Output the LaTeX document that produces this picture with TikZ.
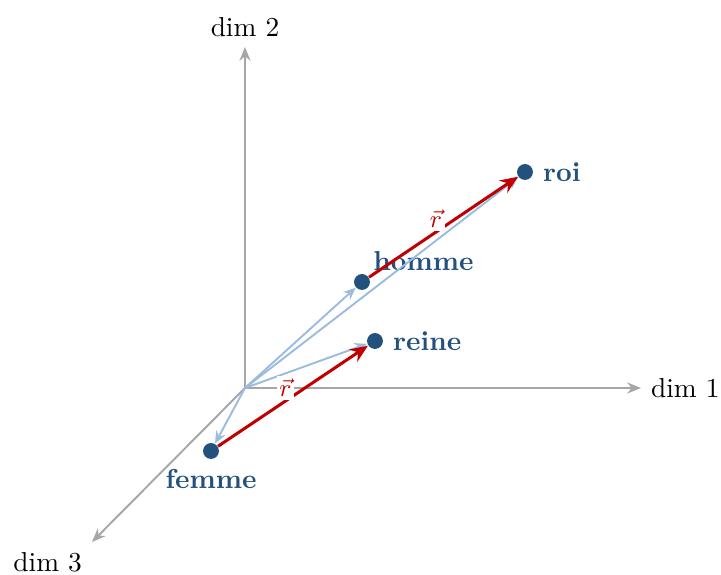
\documentclass[tikz,border=0pt]{standalone}
\usetikzlibrary{arrows.meta}

\definecolor{pointblue}{HTML}{23517E}
\definecolor{vecblue}{HTML}{9BBCDD}
\definecolor{shiftred}{HTML}{C00000}
\definecolor{axisgray}{HTML}{A6A6A6}

\begin{document}
\begin{tikzpicture}[x=0.365pt, y=0.365pt,
    axis/.style={axisgray, line width=0.7pt,
        -{Stealth[length=5pt, width=4pt, inset=1.6pt]}},
    axislabel/.style={text=black},
    dot/.style={circle, fill=pointblue, inner sep=0pt, minimum size=5.8pt,
        label distance=1pt},
    word/.style={text=pointblue, font=\bfseries},
    embed/.style={vecblue, line width=0.7pt,
        -{Stealth[length=4.5pt, width=3.8pt, inset=1.5pt]}},
    offsetvec/.style={shiftred, line width=1.1pt,
        -{Stealth[length=6.5pt, width=5.4pt, inset=2.2pt]}},
    rlabel/.style={text=shiftred, fill=white, inner sep=1pt, font=\small}]

    \useasboundingbox (-245,-187) rectangle (476,388);

    % axes
    \coordinate (O) at (0,0);
    \coordinate (e1) at (396,0);
    \coordinate (e2) at (0,341);
    \coordinate (e3) at (-153,-154);
    \draw[axis] (O) -- (e1) node[axislabel, right] {dim 1};
    \draw[axis] (O) -- (e2) node[axislabel, above] {dim 2};
    \draw[axis] (O) -- (e3) node[axislabel, below left] {dim 3};

    % words
    \node[dot, label={[word]right:roi}] (roi) at (280,216) {};
    \node[dot, label={[word, label distance=-2.2pt]above right:homme}] (homme) at (117,106) {};
    \node[dot, label={[word]right:reine}] (reine) at (130,47) {};
    \node[dot, label={[word]below:femme}] (femme) at (-34,-63) {};

    % embeddings
    \foreach \w in {roi, homme, reine, femme} {
        \draw[embed] (O) -- (\w);
    }

    % offset vector
    \draw[offsetvec] (homme) -- (roi) node[rlabel, pos=0.45, above] {$\vec{r}$};
    \draw[offsetvec] (femme) -- (reine) node[rlabel, pos=0.45, above] {$\vec{r}$};
\end{tikzpicture}
\end{document}
